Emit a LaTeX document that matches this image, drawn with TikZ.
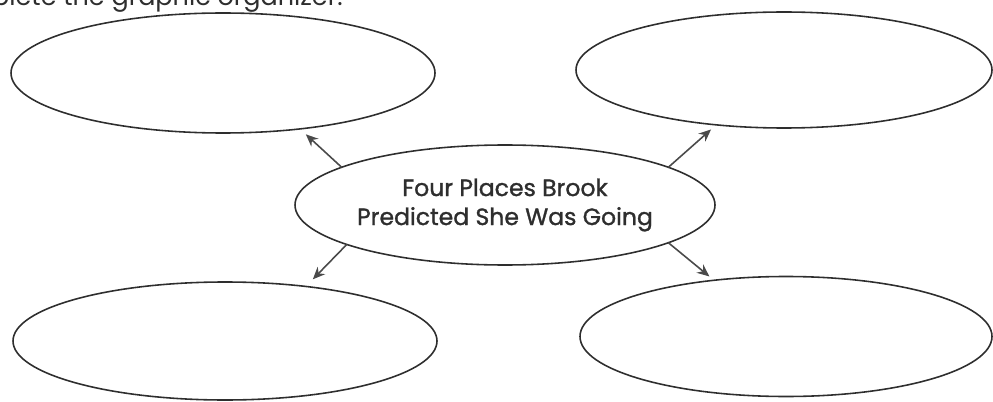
\documentclass[tikz,border=0pt]{standalone}
\usepackage{fontspec}
\setmainfont{Poppins}
\newfontfamily\titlefont[FakeBold=1.2]{Poppins}
\usetikzlibrary{shapes.geometric,arrows.meta}
\definecolor{inkgray}{HTML}{2E2E2E}
\definecolor{arrowgray}{HTML}{4A4A4A}
\tikzset{
  blank/.style={ellipse, draw=inkgray, line width=0.9pt, inner sep=0pt, outer sep=0pt},
  pointer/.style={-{Stealth[length=7pt,width=6pt]}, arrowgray, line width=0.9pt}
}
\begin{document}
\begin{tikzpicture}
  \useasboundingbox (0,0) rectangle (19.86,8.02);
  \clip (0,0) rectangle (19.86,8.02);
  % instruction line, cut off at the top
  \node[anchor=base east, inner sep=0pt, text=inkgray, font=\fontsize{14.5}{17}\selectfont] (instr) at (6.86,7.90) {Complete the graphic organizer.};

  % the five ellipses
  \node[blank, minimum width=8.48cm, minimum height=2.40cm] (tl) at (4.46,6.56) {};
  \node[blank, minimum width=8.32cm, minimum height=2.32cm] (tr) at (15.68,6.62) {};
  \node[blank, minimum width=8.48cm, minimum height=2.36cm] (bl) at (4.50,1.20) {};
  \node[blank, minimum width=8.24cm, minimum height=2.40cm] (br) at (15.72,1.29) {};
  \node[blank, minimum width=8.40cm, minimum height=2.40cm, align=center, text=inkgray,
        font=\titlefont\fontsize{13.4}{16.5}\selectfont] (c) at (10.10,3.92)
        {Four Places Brook\\Predicted She Was Going};

  % arrows out of the middle
  \draw[pointer, shorten >=0.16cm] (c.167) -- (tl.-36);
  \draw[pointer, shorten >=0.14cm] (c.13) -- (tr.-141);
  \draw[pointer, shorten >=0.20cm] (c.-166) -- (bl.34);
  \draw[pointer, shorten >=0.12cm] (c.-13) -- (br.142);
\end{tikzpicture}
\end{document}
